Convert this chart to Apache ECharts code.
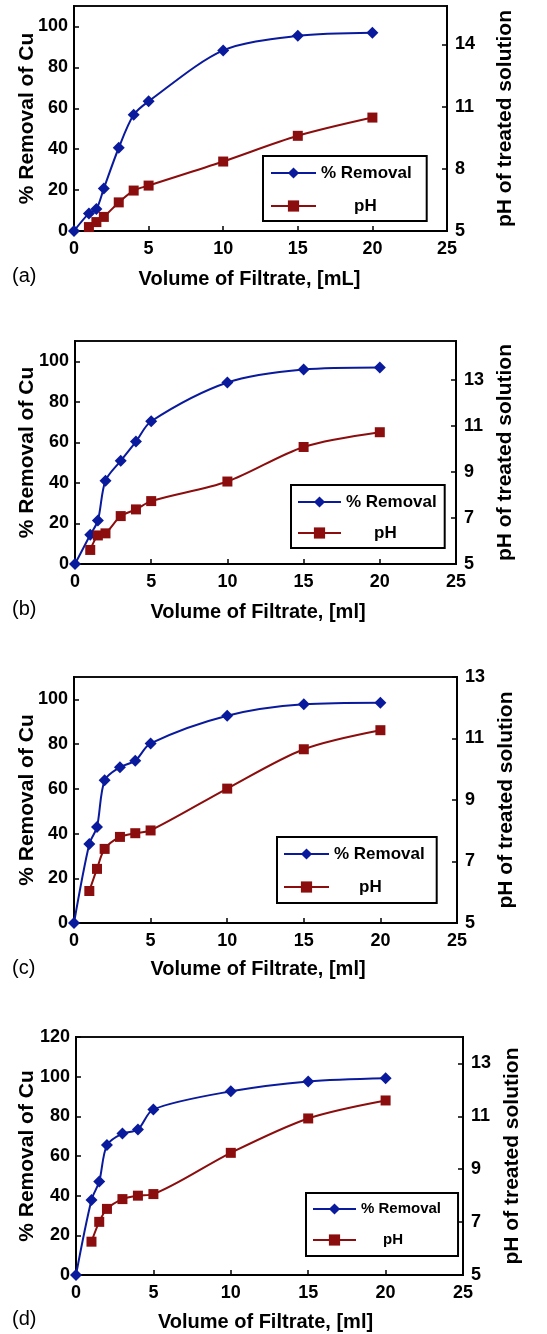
<!DOCTYPE html>
<html>
<head>
<meta charset="utf-8">
<script src="https://cdn.jsdelivr.net/npm/echarts@6/dist/echarts.min.js"></script>
<style>
  html, body { margin: 0; padding: 0; background: #fff; }
  #main { width: 547px; height: 1334px; }
</style>
</head>
<body>
<div id="main"></div>
<script>
// volumes of filtrate (ml)
var volRemoval = [0, 1, 1.5, 2, 3, 4, 5, 10, 15, 20]
var volPH = [1, 1.5, 2, 3, 4, 5, 10, 15, 20]

// % removal of Cu, panels a-d
var removalA = [0, 8.6, 10.7, 20.8, 40.7, 56.8, 63.4, 88.3, 95.4, 96.9]
var removalB = [0, 14.4, 21.4, 41.1, 50.9, 60.4, 70.4, 89.5, 95.9, 96.9]
var removalC = [0, 35.3, 42.9, 63.8, 69.7, 72.6, 80.3, 92.7, 97.8, 98.5]
var removalD = [0, 37.8, 47.1, 65.5, 71.3, 73.4, 83.5, 92.6, 97.6, 99.2]

// pH of treated solution, panels a-d
var phA = [5.19, 5.43, 5.68, 6.38, 6.95, 7.19, 8.35, 9.59, 10.47]
var phB = [5.61, 6.24, 6.33, 7.08, 7.37, 7.73, 8.58, 10.08, 10.72]
var phC = [6.04, 6.76, 7.41, 7.80, 7.92, 8.01, 9.37, 10.65, 11.27]
var phD = [6.26, 7.01, 7.50, 7.87, 8.00, 8.06, 9.62, 10.92, 11.60]

var panelTags = ['(a)', '(b)', '(c)', '(d)']
var xTitles = ['Volume of Filtrate, [mL]', 'Volume of Filtrate, [ml]', 'Volume of Filtrate, [ml]', 'Volume of Filtrate, [ml]']

var BLUE = '#0a1a9c'
var RED = '#8b0d0d'
var FONT = '"Liberation Sans", Arial, sans-serif'

// layout of each panel (pixels)
var panels = [
  { grid: { left: 74, top: 6, width: 373, height: 225 }, leftMax: 110, rightMax: 15.85, rightInterval: 3,
    leftGap: 36, rightGap: 48, xGap: 38, xShift: 22, tagY: 277, legendFont: 17,
    legend: { left: 263, top: 156, pad: [8, 15, 6, 7], itemWidth: 45, gap: 15, phOff: 33 } },
  { grid: { left: 75, top: 341, width: 381, height: 223 }, leftMax: 110, rightMax: 14.68, rightInterval: 2,
    leftGap: 37, rightGap: 39, xGap: 38, xShift: 15, tagY: 610, legendFont: 17,
    legend: { left: 291, top: 485, pad: [8, 8, 6, 6], itemWidth: 43, gap: 13, phOff: 28 } },
  { grid: { left: 74, top: 677, width: 383, height: 246 }, leftMax: 110, rightMax: 13, rightInterval: 2,
    leftGap: 36, rightGap: 38, xGap: 36, xShift: 15, tagY: 969, legendFont: 17,
    legend: { left: 277, top: 837, pad: [8, 12, 7, 6], itemWidth: 45, gap: 15, phOff: 25 } },
  { grid: { left: 76, top: 1037, width: 387, height: 238 }, leftMax: 120, rightMax: 14, rightInterval: 2,
    leftGap: 38, rightGap: 32, xGap: 37, xShift: 8, tagY: 1320, legendFont: 15,
    legend: { left: 306, top: 1193, pad: [8, 17, 8, 6], itemWidth: 43, gap: 15, phOff: 22 } }
]

var removals = [removalA, removalB, removalC, removalD]
var phs = [phA, phB, phC, phD]

function pairs(xs, ys) {
  return xs.map(function (x, i) { return [x, ys[i]] })
}

var option = {
  animation: false,
  backgroundColor: '#fff',
  textStyle: { fontFamily: FONT },
  grid: [], xAxis: [], yAxis: [], series: [], legend: [], graphic: []
}

panels.forEach(function (p, k) {
  option.grid.push(Object.assign({ show: true, borderColor: '#111', borderWidth: 2, backgroundColor: 'transparent' }, p.grid))

  var axisLine = { show: true, lineStyle: { color: '#000', width: 2 } }
  var axisTick = { show: true, inside: true, length: 5, lineStyle: { color: '#000', width: 1.5 } }
  var label = { color: '#000', fontWeight: 'bold', fontSize: 18, fontFamily: FONT }

  option.xAxis.push({
    type: 'value', gridIndex: k, min: 0, max: 25, interval: 5,
    name: xTitles[k], nameLocation: 'middle', nameGap: p.xGap, nameMoveOverlap: false,
    nameTextStyle: { color: '#000', fontWeight: 'bold', fontSize: 20, fontFamily: FONT, padding: [0, p.xShift, 0, 0] },
    axisLine: axisLine, axisTick: axisTick, splitLine: { show: false },
    axisLabel: Object.assign({ margin: 9 }, label)
  })

  option.yAxis.push({
    type: 'value', gridIndex: k, position: 'left', min: 0, max: p.leftMax, interval: 20,
    name: '% Removal of Cu', nameLocation: 'middle', nameGap: p.leftGap, nameRotate: 90, nameMoveOverlap: false,
    nameTextStyle: { color: '#000', fontWeight: 'bold', fontSize: 21, fontFamily: FONT },
    axisLine: axisLine, axisTick: axisTick, splitLine: { show: false },
    axisLabel: Object.assign({ margin: 6, showMaxLabel: p.leftMax === 120 }, label)
  })
  option.yAxis.push({
    type: 'value', gridIndex: k, position: 'right', min: 5, max: p.rightMax, interval: p.rightInterval,
    name: 'pH of treated solution', nameLocation: 'middle', nameGap: p.rightGap, nameRotate: 90,
    nameTextStyle: { color: '#000', fontWeight: 'bold', fontSize: 21, fontFamily: FONT },
    axisLine: axisLine, axisTick: axisTick, splitLine: { show: false },
    axisLabel: Object.assign({ margin: 8, showMaxLabel: p.rightMax === 13 }, label)
  })

  option.series.push({
    name: '% Removal', type: 'line', xAxisIndex: k, yAxisIndex: 2 * k,
    data: pairs(volRemoval, removals[k]), smooth: 0.3,
    symbol: 'diamond', symbolSize: 12,
    lineStyle: { color: BLUE, width: 2 }, itemStyle: { color: BLUE }
  })
  option.series.push({
    name: 'pH', type: 'line', xAxisIndex: k, yAxisIndex: 2 * k + 1,
    data: pairs(volPH, phs[k]), smooth: 0.3,
    symbol: 'rect', symbolSize: 10,
    lineStyle: { color: RED, width: 2 }, itemStyle: { color: RED }
  })

  var lg = p.legend
  option.legend.push({
    data: ['% Removal', 'pH'], orient: 'vertical', left: lg.left, top: lg.top,
    padding: lg.pad, itemGap: lg.gap, itemWidth: lg.itemWidth, itemHeight: 14,
    borderColor: '#000', borderWidth: 2, backgroundColor: '#fff', selectedMode: false,
    formatter: function (name) { return name === 'pH' ? '{p|pH}' : name },
    textStyle: {
      color: '#000', fontWeight: 'bold', fontSize: p.legendFont, fontFamily: FONT, lineHeight: p.legendFont + 1,
      rich: { p: { padding: [0, 0, 0, lg.phOff], fontWeight: 'bold', fontSize: p.legendFont, fontFamily: FONT, color: '#000' } }
    }
  })

  option.graphic.push({
    type: 'text', left: 12, top: p.tagY - 11,
    style: { text: panelTags[k], fill: '#000', font: '20px ' + FONT }
  })
})

var chart = echarts.init(document.getElementById('main'))
chart.setOption(option)
</script>
</body>
</html>
